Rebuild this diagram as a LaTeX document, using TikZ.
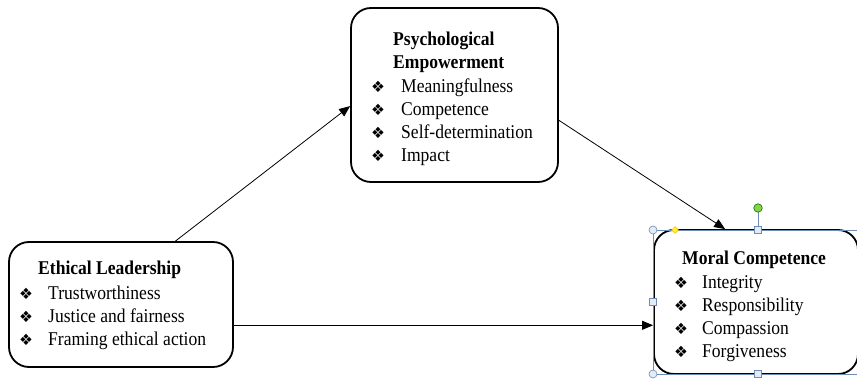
\documentclass[tikz,border=0pt]{standalone}
\usepackage{fontspec}
\setmainfont[FakeStretch=0.9]{Liberation Serif}
\newfontfamily\dejavu{DejaVu Sans}
\usetikzlibrary{arrows.meta,calc,shapes.geometric}
\definecolor{selblue}{RGB}{110,140,180}
\definecolor{selfill}{RGB}{225,236,248}
\tikzset{
  box/.style={draw=black, line width=1.8pt, rounded corners=20pt, inner sep=0pt},
  txt/.style={inner sep=0pt, anchor=base west, font=\fontsize{19.5}{23}\selectfont},
  ttl/.style={txt, font=\fontsize{19.5}{23}\selectfont\bfseries},
  bul/.style={inner sep=0pt, anchor=base west, font=\dejavu\fontsize{15.5}{16}\selectfont},
  conn/.style={draw=black, line width=0.8pt, -{Triangle[length=11pt,width=9pt]}},
  selline/.style={draw=selblue, line width=0.7pt},
  hcirc/.style={circle, draw=selblue, fill=selfill, line width=0.6pt, minimum size=8pt, inner sep=0pt},
  hsq/.style={rectangle, draw=selblue, fill=selfill, line width=0.6pt, minimum size=6.5pt, inner sep=0pt},
}
\begin{document}
\begin{tikzpicture}[x=1pt,y=-1pt]
\useasboundingbox (0,0) rectangle (857,379);
% boxes
\node[box, minimum width=224pt, minimum height=125pt] (el) at (121,304.5) {};
\node[box, minimum width=207pt, minimum height=174pt] (pe) at (454.5,95) {};
\node[box, minimum width=204pt, minimum height=144pt] (mc) at (756,302) {};
% Ethical Leadership text
\node[ttl] (elt) at (38,274.5) {Ethical Leadership};
\node[bul] (elb1) at (19,299.5) {❖};
\node[txt] (el1) at (48,299.5) {Trustworthiness};
\node[bul] (elb2) at (19,322.5) {❖};
\node[txt] (el2) at (48,322.5) {Justice and fairness};
\node[bul] (elb3) at (19,345.5) {❖};
\node[txt] (el3) at (48,345.5) {Framing ethical action};
% Psychological Empowerment text
\node[ttl] (pet1) at (393,45.5) {Psychological};
\node[ttl] (pet2) at (393,68.5) {Empowerment};
\node[bul] (peb1) at (371,92.5) {❖};
\node[txt] (pe1) at (401,92.5) {Meaningfulness};
\node[bul] (peb2) at (371,115.5) {❖};
\node[txt] (pe2) at (401,115.5) {Competence};
\node[bul] (peb3) at (371,138.5) {❖};
\node[txt] (pe3) at (401,138.5) {Self-determination};
\node[bul] (peb4) at (371,161.5) {❖};
\node[txt] (pe4) at (401,161.5) {Impact};
% Moral Competence text
\node[ttl] (mct) at (682,264.5) {Moral Competence};
\node[bul] (mcb1) at (674,288.5) {❖};
\node[txt] (mc1) at (702,288.5) {Integrity};
\node[bul] (mcb2) at (674,311.5) {❖};
\node[txt] (mc2) at (702,311.5) {Responsibility};
\node[bul] (mcb3) at (674,334.5) {❖};
\node[txt] (mc3) at (702,334.5) {Compassion};
\node[bul] (mcb4) at (674,357.5) {❖};
\node[txt] (mc4) at (702,357.5) {Forgiveness};
% connectors
\draw[conn] ($(el.north west)!0.741!(el.north east)$) -- ($(pe.north west)!0.563!(pe.south west)$);
\draw[conn] ($(pe.north east)!0.644!(pe.south east)$) -- ($(mc.north west)!0.35!(mc.north east)$);
\coordinate (a3) at ($(el.north east)!0.664!(el.south east)$);
\draw[conn] (a3) -- (a3 -| mc.west);
% selection frame (as shown in the reference)
\draw[selline] (653,230) rectangle (860,374);
\draw[selline] (758,208) -- (758,230);
\node[hcirc] (h1) at (653,230) {};
\node[hcirc] (h2) at (653,374) {};
\node[hsq] (h3) at (653,302) {};
\node[hsq] (h4) at (758,230) {};
\node[hsq] (h5) at (758,374) {};
\node[circle, draw=green!45!black, fill={rgb,255:red,140;green,210;blue,70}, line width=0.6pt, minimum size=8.5pt, inner sep=0pt] (hrot) at (758,208) {};
\node[diamond, draw=orange!60!yellow, fill=yellow!85, line width=0.5pt, minimum size=7pt, inner sep=0pt] (hadj) at (675,230) {};
\end{tikzpicture}
\end{document}
